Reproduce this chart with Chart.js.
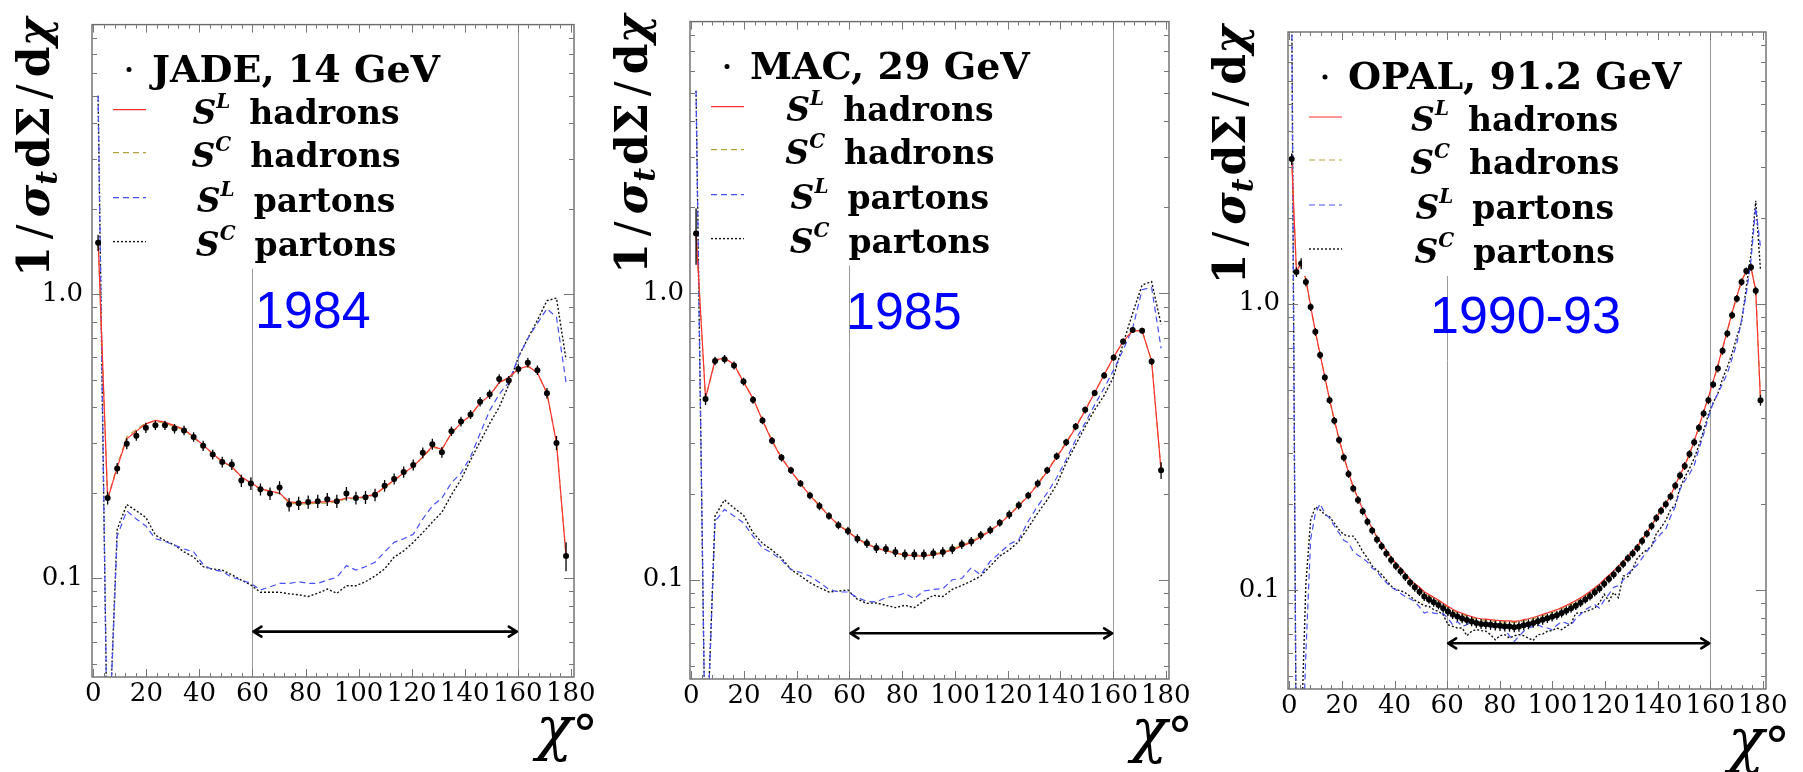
<!DOCTYPE html>
<html>
<head>
<meta charset="utf-8">
<script src="https://cdn.jsdelivr.net/npm/chart.js@4.4.1/dist/chart.umd.min.js"></script>
<style>
  html, body { margin: 0; padding: 0; background: #fff; }
  #wrap { position: relative; width: 1803px; height: 772px; overflow: hidden; }
  canvas { position: absolute; top: 0; }
</style>
</head>
<body>
<div id="wrap">
  <canvas id="c1" width="600" height="772" style="left:0px"></canvas>
  <canvas id="c2" width="600" height="772" style="left:600px"></canvas>
  <canvas id="c3" width="603" height="772" style="left:1200px"></canvas>
</div>
<script>
// bin centres (chi in degrees)
const chi50 = [1.8,5.4,9,12.6,16.2,19.8,23.4,27,30.6,34.2,37.8,41.4,45,48.6,52.2,55.8,59.4,63,66.6,70.2,
  73.8,77.4,81,84.6,88.2,91.8,95.4,99,102.6,106.2,109.8,113.4,117,120.6,124.2,127.8,131.4,135,138.6,142.2,
  145.8,149.4,153,156.6,160.2,163.8,167.4,171,174.6,178.2];
const chi100 = [0.9,2.7,4.5,6.3,8.1,9.9,11.7,13.5,15.3,17.1,18.9,20.7,22.5,24.3,26.1,27.9,29.7,31.5,33.3,35.1,
  36.9,38.7,40.5,42.3,44.1,45.9,47.7,49.5,51.3,53.1,54.9,56.7,58.5,60.3,62.1,63.9,65.7,67.5,69.3,71.1,
  72.9,74.7,76.5,78.3,80.1,81.9,83.7,85.5,87.3,89.1,90.9,92.7,94.5,96.3,98.1,99.9,101.7,103.5,105.3,107.1,
  108.9,110.7,112.5,114.3,116.1,117.9,119.7,121.5,123.3,125.1,126.9,128.7,130.5,132.3,134.1,135.9,137.7,139.5,141.3,143.1,
  144.9,146.7,148.5,150.3,152.1,153.9,155.7,157.5,159.3,161.1,162.9,164.7,166.5,168.3,170.1,171.9,173.7,175.5,177.3,179.1];

// JADE 14 GeV
const jadeData = [1.52,0.192,0.244,0.298,0.318,0.339,0.346,0.346,0.337,0.332,
  0.315,0.293,0.273,0.257,0.252,0.221,0.216,0.206,0.199,0.209,
  0.182,0.184,0.186,0.187,0.190,0.187,0.199,0.192,0.193,0.197,
  0.212,0.224,0.237,0.251,0.277,0.297,0.278,0.330,0.357,0.378,
  0.419,0.445,0.504,0.497,0.546,0.575,0.541,0.449,0.300,0.120];
const jadeErr = [0.10,0.010,0.011,0.013,0.013,0.014,0.013,0.013,0.013,0.013,
  0.012,0.012,0.011,0.011,0.011,0.011,0.011,0.010,0.010,0.011,
  0.010,0.010,0.010,0.010,0.010,0.010,0.011,0.010,0.010,0.010,
  0.010,0.010,0.011,0.011,0.012,0.013,0.012,0.013,0.014,0.014,
  0.016,0.017,0.019,0.019,0.021,0.022,0.021,0.019,0.017,0.014];
const jadeSLhad = [1.55,0.190,0.246,0.310,0.330,0.350,0.360,0.355,0.345,0.335,
  0.315,0.295,0.275,0.258,0.248,0.228,0.217,0.207,0.203,0.200,
  0.186,0.185,0.185,0.186,0.186,0.188,0.192,0.192,0.194,0.198,
  0.210,0.222,0.235,0.248,0.268,0.292,0.285,0.325,0.352,0.375,
  0.415,0.440,0.490,0.510,0.545,0.560,0.530,0.450,0.300,0.120];
const jadeSChad = [1.55,0.190,0.250,0.315,0.335,0.352,0.358,0.352,0.342,0.333,
  0.313,0.293,0.274,0.257,0.247,0.227,0.216,0.206,0.202,0.199,
  0.184,0.183,0.183,0.184,0.184,0.186,0.191,0.191,0.193,0.197,
  0.209,0.221,0.234,0.247,0.267,0.290,0.284,0.324,0.351,0.374,
  0.414,0.440,0.488,0.508,0.543,0.558,0.528,0.448,0.300,0.120];
const jadeSLpar = [5.0,0.02,0.141,0.173,0.162,0.153,0.138,0.135,0.131,0.127,
  0.124,0.112,0.107,0.106,0.101,0.0987,0.0961,0.0911,0.0935,0.0961,
  0.0961,0.0974,0.0961,0.0961,0.0987,0.101,0.111,0.107,0.110,0.114,
  0.124,0.134,0.138,0.143,0.162,0.180,0.192,0.217,0.235,0.268,
  0.324,0.390,0.445,0.490,0.600,0.700,0.790,0.890,0.830,0.490];
const jadeSCpar = [5.0,0.02,0.149,0.182,0.173,0.164,0.142,0.136,0.131,0.124,
  0.119,0.110,0.108,0.107,0.103,0.0987,0.0948,0.0894,0.0894,0.0894,
  0.0883,0.0876,0.0864,0.0887,0.0918,0.0887,0.0943,0.0943,0.0974,0.102,
  0.108,0.119,0.125,0.134,0.145,0.158,0.171,0.197,0.223,0.261,
  0.303,0.351,0.401,0.480,0.600,0.700,0.810,0.950,0.970,0.590];

// MAC 29 GeV
const macData = [1.62,0.428,0.581,0.589,0.560,0.492,0.425,0.360,0.306,0.267,
  0.241,0.217,0.197,0.181,0.167,0.155,0.148,0.139,0.134,0.129,
  0.128,0.125,0.1225,0.1225,0.1225,0.1236,0.125,0.128,0.133,0.136,
  0.143,0.149,0.158,0.169,0.182,0.197,0.217,0.241,0.270,0.302,
  0.343,0.392,0.449,0.517,0.597,0.679,0.745,0.741,0.578,0.241];
const macErr = [0.36,0.020,0.020,0.020,0.018,0.015,0.013,0.011,0.009,0.008,
  0.007,0.006,0.006,0.006,0.005,0.005,0.005,0.005,0.005,0.005,
  0.005,0.005,0.005,0.005,0.005,0.005,0.005,0.005,0.005,0.005,
  0.005,0.005,0.005,0.006,0.006,0.006,0.007,0.007,0.008,0.009,
  0.010,0.011,0.012,0.014,0.015,0.016,0.017,0.017,0.016,0.016];
const macSLhad = [1.62,0.43,0.585,0.595,0.565,0.49,0.43,0.36,0.305,0.266,
  0.240,0.216,0.197,0.181,0.167,0.155,0.147,0.139,0.133,0.129,
  0.126,0.124,0.122,0.121,0.121,0.122,0.124,0.127,0.131,0.135,
  0.141,0.148,0.157,0.168,0.181,0.196,0.215,0.239,0.268,0.300,
  0.340,0.39,0.45,0.52,0.60,0.68,0.74,0.74,0.58,0.24];
const macSChad = [1.60,0.43,0.58,0.59,0.562,0.492,0.428,0.362,0.307,0.267,
  0.241,0.217,0.198,0.182,0.168,0.156,0.148,0.139,0.134,0.129,
  0.127,0.124,0.122,0.122,0.121,0.123,0.125,0.128,0.132,0.136,
  0.142,0.149,0.158,0.169,0.182,0.197,0.217,0.241,0.27,0.302,
  0.343,0.392,0.452,0.518,0.598,0.679,0.742,0.742,0.58,0.24];
const macSLpar = [5.1,0.02,0.160,0.176,0.167,0.158,0.142,0.129,0.124,0.117,
  0.1086,0.106,0.103,0.0977,0.0925,0.0906,0.0906,0.0866,0.084,0.0836,
  0.0866,0.0877,0.0897,0.0859,0.0913,0.0925,0.093,0.100,0.101,0.110,
  0.104,0.116,0.124,0.133,0.138,0.160,0.181,0.201,0.227,0.263,
  0.308,0.353,0.408,0.467,0.540,0.635,0.755,1.03,1.05,0.643];
const macSCpar = [5.1,0.02,0.167,0.190,0.178,0.168,0.146,0.134,0.127,0.119,
  0.1086,0.103,0.0977,0.0938,0.0906,0.0913,0.092,0.0854,0.0827,0.083,
  0.0814,0.0799,0.0814,0.0799,0.0843,0.0882,0.0873,0.0925,0.0955,0.0989,
  0.103,0.1116,0.121,0.127,0.136,0.152,0.171,0.190,0.215,0.256,
  0.296,0.343,0.392,0.440,0.512,0.669,0.852,1.07,1.10,0.78];

// OPAL 91.2 GeV
const opalData = [3.2,1.29,1.38,1.19,0.973,0.797,0.661,0.552,0.460,0.390,
  0.334,0.290,0.254,0.226,0.206,0.188,0.173,0.161,0.150,0.142,
  0.134,0.127,0.121,0.116,0.111,0.106,0.102,0.0985,0.0947,0.0925,
  0.0905,0.0885,0.0862,0.0840,0.0820,0.0806,0.0794,0.0784,0.0775,0.0766,
  0.0760,0.0758,0.0754,0.0750,0.0748,0.0745,0.0744,0.0740,0.0744,0.0752,
  0.0758,0.0766,0.0776,0.0785,0.0795,0.0805,0.0815,0.0830,0.0845,0.0862,
  0.0880,0.0900,0.0925,0.0950,0.0980,0.101,0.105,0.109,0.113,0.118,
  0.123,0.129,0.134,0.140,0.148,0.157,0.167,0.178,0.189,0.199,
  0.212,0.231,0.251,0.271,0.298,0.328,0.368,0.413,0.460,0.522,
  0.593,0.684,0.786,0.911,1.04,1.19,1.30,1.34,1.11,0.46];
const opalErr = [0.15,0.05,0.06,0.04,0.03,0.025,0.02,0.017,0.014,0.012,
  0.010,0.009,0.008,0.007,0.0065,0.006,0.0055,0.005,0.0048,0.0046,
  0.0044,0.0042,0.004,0.0038,0.0037,0.0036,0.0035,0.0034,0.0033,0.0032,
  0.0032,0.0031,0.0031,0.003,0.003,0.003,0.003,0.003,0.003,0.003,
  0.003,0.003,0.003,0.003,0.003,0.003,0.003,0.003,0.003,0.003,
  0.003,0.003,0.003,0.003,0.003,0.003,0.003,0.003,0.003,0.003,
  0.003,0.003,0.003,0.0032,0.0033,0.0034,0.0035,0.0036,0.0037,0.0038,
  0.004,0.0042,0.0044,0.0046,0.0048,0.005,0.0053,0.0056,0.006,0.0063,
  0.0068,0.0074,0.008,0.0087,0.0095,0.0105,0.0117,0.013,0.0146,0.016,
  0.018,0.021,0.024,0.028,0.031,0.035,0.038,0.04,0.035,0.02];
const opalSLhad = [3.2,1.30,1.38,1.22,0.980,0.800,0.665,0.555,0.463,0.393,
  0.337,0.293,0.257,0.229,0.209,0.191,0.176,0.164,0.153,0.145,
  0.137,0.130,0.124,0.119,0.114,0.109,0.105,0.102,0.0985,0.0962,
  0.0941,0.0921,0.0898,0.0875,0.0855,0.0840,0.0827,0.0816,0.0806,0.0797,
  0.0792,0.0790,0.0786,0.0783,0.0781,0.0779,0.0778,0.0775,0.0778,0.0786,
  0.0792,0.0800,0.0810,0.0820,0.0830,0.0841,0.0852,0.0867,0.0882,0.0899,
  0.0917,0.0937,0.0961,0.0986,0.1016,0.1046,0.1086,0.1124,0.1163,0.121,
  0.126,0.131,0.136,0.142,0.150,0.158,0.168,0.179,0.190,0.200,
  0.213,0.232,0.252,0.272,0.299,0.330,0.372,0.420,0.470,0.535,
  0.610,0.700,0.805,0.930,1.06,1.20,1.30,1.34,1.11,0.46];
const opalSChad = [3.2,1.28,1.40,1.20,0.975,0.798,0.663,0.553,0.461,0.391,
  0.335,0.292,0.256,0.228,0.208,0.190,0.175,0.163,0.152,0.144,
  0.136,0.129,0.123,0.118,0.113,0.108,0.104,0.101,0.0975,0.0953,
  0.0933,0.0913,0.0890,0.0867,0.0848,0.0832,0.0819,0.0808,0.0798,0.0789,
  0.0784,0.0782,0.0778,0.0775,0.0773,0.0771,0.0770,0.0767,0.0770,0.0778,
  0.0784,0.0792,0.0802,0.0812,0.0822,0.0833,0.0844,0.0859,0.0874,0.0891,
  0.0909,0.0929,0.0953,0.0978,0.1007,0.1037,0.1077,0.1115,0.1154,0.120,
  0.125,0.130,0.135,0.141,0.149,0.157,0.167,0.178,0.189,0.199,
  0.212,0.231,0.251,0.271,0.298,0.329,0.370,0.418,0.467,0.530,
  0.604,0.695,0.800,0.925,1.05,1.20,1.30,1.34,1.11,0.46];
const opalSLpar = [12,0.02,0.02,0.06,0.150,0.185,0.200,0.185,0.178,0.167,
  0.158,0.149,0.146,0.136,0.132,0.129,0.125,0.119,0.116,0.110,
  0.106,0.102,0.100,0.097,0.0947,0.093,0.0911,0.087,0.0829,0.084,
  0.0829,0.0825,0.0825,0.0796,0.0755,0.0775,0.0745,0.0755,0.0775,0.0760,
  0.0745,0.0755,0.0740,0.0740,0.0745,0.0726,0.0690,0.0660,0.0688,0.0716,
  0.0735,0.0745,0.0755,0.0740,0.0735,0.0725,0.0752,0.0773,0.0765,0.0752,
  0.0794,0.0820,0.0852,0.0870,0.0887,0.0863,0.0920,0.0965,0.102,0.1033,
  0.108,0.114,0.118,0.122,0.129,0.136,0.143,0.150,0.157,0.163,
  0.180,0.195,0.224,0.240,0.254,0.272,0.310,0.350,0.400,0.450,
  0.485,0.526,0.570,0.643,0.725,0.875,1.08,1.42,2.17,1.58];
const opalSCpar = [12,0.02,0.03,0.105,0.175,0.195,0.190,0.183,0.180,0.171,
  0.162,0.156,0.154,0.154,0.146,0.136,0.129,0.121,0.117,0.113,
  0.108,0.103,0.100,0.0994,0.0975,0.095,0.092,0.090,0.088,0.0875,
  0.0852,0.084,0.0818,0.0755,0.0745,0.0735,0.0735,0.0691,0.0716,0.0726,
  0.0720,0.0716,0.0697,0.0669,0.0691,0.0697,0.0678,0.0690,0.0697,0.0691,
  0.0678,0.0665,0.0697,0.0700,0.0716,0.0720,0.0735,0.0725,0.0745,0.0762,
  0.0828,0.0830,0.0839,0.0850,0.0863,0.0900,0.0965,0.0913,0.0978,0.0938,
  0.112,0.111,0.118,0.129,0.134,0.138,0.142,0.157,0.165,0.175,
  0.190,0.198,0.227,0.247,0.265,0.288,0.320,0.360,0.410,0.450,
  0.485,0.547,0.601,0.669,0.765,0.863,1.14,1.49,2.29,1.31];

// axes
const xMajorTicks = [0, 20, 40, 60, 80, 100, 120, 140, 160, 180];
const yTickValues = [0.05,0.06,0.07,0.08,0.09,0.1,0.2,0.3,0.4,0.5,0.6,0.7,0.8,0.9,1,2,3,4,5,6,7,8];
const yTickLabels = { 0.1: '0.1', 1: '1.0' };
const markerLines = [60, 160];
const arrowFrom = 60, arrowTo = 160, arrowY = 0.065;

const panels = [
  { name: 'JADE, 14 GeV', year: '1984', x: chi50, data: jadeData, err: jadeErr,
    slHad: jadeSLhad, scHad: jadeSChad, slPar: jadeSLpar, scPar: jadeSCpar },
  { name: 'MAC, 29 GeV', year: '1985', x: chi50, data: macData, err: macErr,
    slHad: macSLhad, scHad: macSChad, slPar: macSLpar, scPar: macSCpar },
  { name: 'OPAL, 91.2 GeV', year: '1990-93', x: chi100, data: opalData, err: opalErr,
    slHad: opalSLhad, scHad: opalSChad, slPar: opalSLpar, scPar: opalSCpar }
];

const layouts = [
  { id: 'c1', yw: 92, top: 15, right: 26, xh: 95, pad: 9, yearDx: 163, yearDy: 303 },
  { id: 'c2', yw: 90, top: 21, right: 31, xh: 93, pad: 6, yearDx: 156, yearDy: 307 },
  { id: 'c3', yw: 88, top: 32, right: 37, xh: 83, pad: 8, yearDx: 142, yearDy: 301 }
];

const SERIF = "'DejaVu Serif', serif";
const seriesKeys = ['slHad', 'scHad', 'slPar', 'scPar'];
const lineStyles = {
  slHad: { color: '#ff3030', dash: [], width: 1.2 },
  scHad: { color: '#b3a33c', dash: [6, 4], width: 1.2 },
  slPar: { color: '#4650f5', dash: [6, 4], width: 1.2 },
  scPar: { color: '#111111', dash: [2, 2], width: 1.4 }
};
const seriesSup = { slHad: 'L', scHad: 'C', slPar: 'L', scPar: 'C' };
const seriesWord = { slHad: 'hadrons', scHad: 'hadrons', slPar: 'partons', scPar: 'partons' };
const legendRows = [57, 99, 142, 187, 231];

function runsWidth(ctx, runs) {
  let w = 0;
  for (const r of runs) { ctx.font = r.f; w += (r.gap || 0) + ctx.measureText(r.t).width; }
  return w;
}
function drawRuns(ctx, runs, x, y) {
  let cx = x;
  for (const r of runs) {
    cx += r.gap || 0;
    ctx.font = r.f;
    ctx.fillText(r.t, cx, y + (r.dy || 0));
    cx += ctx.measureText(r.t).width;
  }
}

const yTitleRuns = [
  { t: '1', f: `bold 44px ${SERIF}` },
  { t: '/', f: `44px ${SERIF}`, gap: 7 },
  { t: 'σ', f: `italic bold 44px ${SERIF}`, gap: 7 },
  { t: 't', f: `italic bold 30px ${SERIF}`, dy: 8 },
  { t: 'dΣ', f: `bold 44px ${SERIF}`, gap: 3 },
  { t: '/', f: `44px ${SERIF}`, gap: 7 },
  { t: 'd', f: `bold 44px ${SERIF}`, gap: 7 },
  { t: 'χ', f: `italic bold 44px ${SERIF}` }
];

function decoPlugin(p, lay) {
  return {
    id: 'deco',
    beforeDatasetsDraw(chart) {
      const { ctx, chartArea: a, scales: { x } } = chart;
      ctx.save();
      ctx.strokeStyle = '#9a9a9a';
      ctx.lineWidth = 1;
      for (const v of markerLines) {
        const px = Math.round(x.getPixelForValue(v)) + 0.5;
        ctx.beginPath(); ctx.moveTo(px, a.top); ctx.lineTo(px, a.bottom); ctx.stroke();
      }
      ctx.restore();
    },
    afterDatasetsDraw(chart) {
      const { ctx, chartArea: a, scales: { x, y } } = chart;

      // error bars
      ctx.save();
      ctx.beginPath(); ctx.rect(a.left, a.top, a.right - a.left, a.bottom - a.top); ctx.clip();
      ctx.strokeStyle = '#000'; ctx.lineWidth = 1.3;
      p.x.forEach((xv, i) => {
        const px = x.getPixelForValue(xv);
        ctx.beginPath();
        ctx.moveTo(px, y.getPixelForValue(p.data[i] - p.err[i]));
        ctx.lineTo(px, y.getPixelForValue(p.data[i] + p.err[i]));
        ctx.stroke();
      });
      ctx.restore();

      // fit range arrow
      ctx.save();
      const ay = y.getPixelForValue(arrowY);
      const x1 = x.getPixelForValue(arrowFrom) + 1, x2 = x.getPixelForValue(arrowTo) - 1;
      ctx.strokeStyle = '#000'; ctx.lineWidth = 2.6; ctx.lineCap = 'round'; ctx.lineJoin = 'round';
      ctx.beginPath();
      ctx.moveTo(x1, ay); ctx.lineTo(x2, ay);
      ctx.moveTo(x1 + 8, ay - 5); ctx.lineTo(x1, ay); ctx.lineTo(x1 + 8, ay + 5);
      ctx.moveTo(x2 - 8, ay - 5); ctx.lineTo(x2, ay); ctx.lineTo(x2 - 8, ay + 5);
      ctx.stroke();
      ctx.restore();

      // legend
      ctx.save();
      const entries = [{ mark: 'dot', runs: [{ t: p.name, f: `bold 38px ${SERIF}` }] }].concat(
        seriesKeys.map(k => ({ mark: k, runs: [
          { t: 'S', f: `italic bold 33px ${SERIF}` },
          { t: seriesSup[k], f: `italic bold 20px ${SERIF}`, dy: -16 },
          { t: seriesWord[k], f: `bold 33px ${SERIF}`, gap: 19 }
        ] })));
      const widths = entries.map(e => runsWidth(ctx, e.runs));
      const maxW = Math.max(...widths);
      const colX = a.left + 60;
      const centre = colX + maxW / 2;
      ctx.fillStyle = '#fff';
      ctx.fillRect(a.left + 14, a.top + 3, colX + maxW + 6 - (a.left + 14), 241);
      entries.forEach((e, i) => {
        const base = a.top + legendRows[i];
        if (e.mark === 'dot') {
          ctx.fillStyle = '#000';
          ctx.beginPath(); ctx.arc(a.left + 37, base - 12, 2.5, 0, Math.PI * 2); ctx.fill();
        } else {
          const st = lineStyles[e.mark];
          ctx.strokeStyle = st.color; ctx.lineWidth = st.width; ctx.setLineDash(st.dash);
          ctx.beginPath(); ctx.moveTo(a.left + 21, base - 14); ctx.lineTo(a.left + 54, base - 14); ctx.stroke();
          ctx.setLineDash([]);
        }
        ctx.fillStyle = '#000';
        drawRuns(ctx, e.runs, centre - widths[i] / 2, base);
      });

      // year
      ctx.fillStyle = '#0000ff';
      ctx.font = "52px 'Liberation Sans', Arial, sans-serif";
      ctx.fillText(p.year, a.left + lay.yearDx, a.top + lay.yearDy);

      // frame and inward ticks
      ctx.strokeStyle = '#6b6b6b'; ctx.lineWidth = 1.4;
      ctx.strokeRect(a.left, a.top, a.right - a.left, a.bottom - a.top);
      ctx.strokeStyle = '#777'; ctx.lineWidth = 1;
      ctx.beginPath();
      for (let v = 0; v <= 180; v += 4) {
        const px = Math.round(x.getPixelForValue(v)) + 0.5;
        const len = xMajorTicks.includes(v) ? 8 : 4;
        ctx.moveTo(px, a.bottom); ctx.lineTo(px, a.bottom - len);
        ctx.moveTo(px, a.top); ctx.lineTo(px, a.top + len);
      }
      for (const v of yTickValues) {
        const py = Math.round(y.getPixelForValue(v)) + 0.5;
        const len = yTickLabels[v] ? 10 : 5;
        ctx.moveTo(a.left, py); ctx.lineTo(a.left + len, py);
        ctx.moveTo(a.right, py); ctx.lineTo(a.right - len, py);
      }
      ctx.stroke();

      // axis titles
      ctx.fillStyle = '#000';
      ctx.save();
      ctx.translate(a.left - 43, a.top - 7);
      ctx.rotate(-Math.PI / 2);
      drawRuns(ctx, yTitleRuns, -runsWidth(ctx, yTitleRuns), 0);
      ctx.restore();
      ctx.font = `italic 60px ${SERIF}`;
      ctx.fillText('χ', a.right - 38, a.bottom + 72);
      ctx.font = `52px ${SERIF}`;
      ctx.fillText('°', a.right - 2, a.bottom + 76);
      ctx.restore();
    }
  };
}

function makeChart(p, lay) {
  const pts = vals => p.x.map((xv, i) => ({ x: xv, y: vals[i] }));
  const lineSet = key => ({
    data: pts(p[key]),
    borderColor: lineStyles[key].color,
    borderWidth: lineStyles[key].width,
    borderDash: lineStyles[key].dash,
    pointRadius: 0, tension: 0, fill: false
  });
  return new Chart(document.getElementById(lay.id), {
    type: 'line',
    data: {
      datasets: [
        { data: pts(p.data), showLine: false, pointRadius: 3, pointBackgroundColor: '#000', pointBorderWidth: 0 },
        lineSet('slHad'), lineSet('scHad'), lineSet('slPar'), lineSet('scPar')
      ]
    },
    options: {
      responsive: false,
      animation: false,
      devicePixelRatio: 1,
      events: [],
      layout: { padding: { top: lay.top, right: lay.right, left: 0, bottom: 0 } },
      plugins: { legend: { display: false }, tooltip: { enabled: false } },
      scales: {
        x: {
          type: 'linear', min: -0.5, max: 181.2,
          afterBuildTicks: s => { s.ticks = xMajorTicks.map(v => ({ value: v })); },
          afterFit: s => { s.height = lay.xh; },
          grid: { display: false, drawTicks: false },
          border: { display: false },
          ticks: { autoSkip: false, maxRotation: 0, padding: 2, color: '#000',
                   font: { family: SERIF, size: 26 } }
        },
        y: {
          type: 'logarithmic', min: 0.045, max: 8.9,
          afterBuildTicks: s => { s.ticks = yTickValues.map(v => ({ value: v })); },
          afterFit: s => { s.width = lay.yw; },
          grid: { display: false, drawTicks: false },
          border: { display: false },
          ticks: { autoSkip: false, padding: lay.pad, color: '#000',
                   font: { family: SERIF, size: 26 },
                   callback: v => yTickLabels[v] || '' }
        }
      }
    },
    plugins: [decoPlugin(p, lay)]
  });
}

panels.forEach((p, i) => makeChart(p, layouts[i]));
</script>
</body>
</html>
